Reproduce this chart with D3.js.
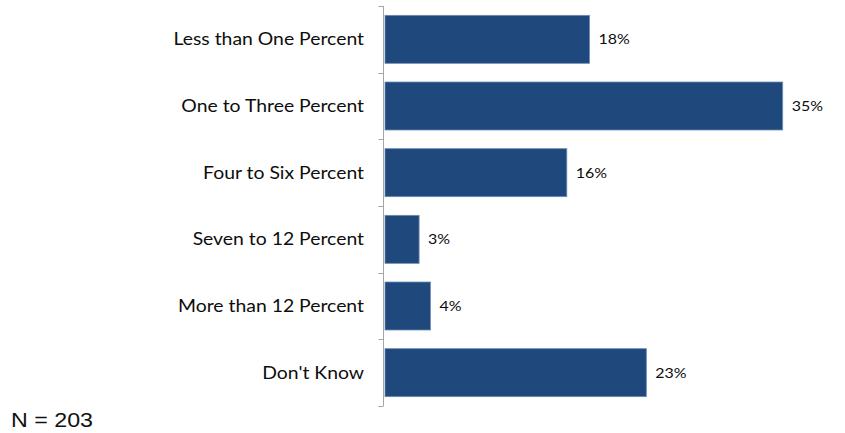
<!DOCTYPE html>
<html>
<head>
<meta charset="utf-8">
<script src="https://cdn.jsdelivr.net/npm/d3@7"></script>
<style>
  html, body { margin: 0; padding: 0; background: #fff; }
  svg { display: block; }
</style>
</head>
<body>
<svg id="chart" width="845" height="433"></svg>
<script>
// Survey responses, share of respondents (%)
const categories = [
  "Less than One Percent",
  "One to Three Percent",
  "Four to Six Percent",
  "Seven to 12 Percent",
  "More than 12 Percent",
  "Don't Know"
];
const values = [18, 35, 16, 3, 4, 23];
const valueLabels = ["18%", "35%", "16%", "3%", "4%", "23%"];
const sampleNote = "N = 203";

const svg = d3.select("#chart");
const labelFont = "Lato, 'Open Sans', sans-serif";
const stretch = 1.14; // labels are set slightly wide

const y = d3.scaleBand()
  .domain(categories)
  .range([6, 406])
  .paddingInner(0.28)
  .paddingOuter(0.14);

const x = d3.scaleLinear()
  .domain([0, 35])
  .range([385, 782.7]);

// Category axis with ticks between bands
const axisX = 383.5;
svg.append("line")
  .attr("x1", axisX).attr("x2", axisX)
  .attr("y1", 6).attr("y2", 406)
  .attr("stroke", "#a6a6a6").attr("stroke-width", 1);

const step = y.step();
const boundaries = d3.range(categories.length + 1).map(i => y.range()[0] + i * step);
svg.selectAll("line.tick")
  .data(boundaries)
  .join("line")
  .attr("class", "tick")
  .attr("x1", axisX - 5).attr("x2", axisX)
  .attr("y1", d => Math.round(d) + 0.5).attr("y2", d => Math.round(d) + 0.5)
  .attr("stroke", "#a6a6a6").attr("stroke-width", 1);

// Bars
svg.selectAll("rect.bar")
  .data(values)
  .join("rect")
  .attr("class", "bar")
  .attr("x", x(0))
  .attr("y", (d, i) => y(categories[i]))
  .attr("width", d => x(d) - x(0))
  .attr("height", y.bandwidth())
  .attr("fill", "#1f497d")
  .attr("stroke", "#6f8cb3")
  .attr("stroke-width", 0.8);

// Category labels
svg.selectAll("text.cat")
  .data(categories)
  .join("text")
  .attr("class", "cat")
  .attr("transform", d => `translate(364,${y(d) + y.bandwidth() / 2}) scale(${stretch},1)`)
  .attr("dy", "0.36em")
  .attr("text-anchor", "end")
  .attr("font-family", labelFont)
  .attr("font-size", 17)
  .attr("fill", "#0d0d0d")
  .text(d => d);

// Value labels
svg.selectAll("text.val")
  .data(values)
  .join("text")
  .attr("class", "val")
  .attr("transform", (d, i) => `translate(${x(d) + 9},${y(categories[i]) + y.bandwidth() / 2}) scale(${stretch},1)`)
  .attr("dy", "0.36em")
  .attr("font-family", labelFont)
  .attr("font-size", 14)
  .attr("fill", "#0d0d0d")
  .text((d, i) => valueLabels[i]);

// Sample size note
svg.append("text")
  .attr("x", 11)
  .attr("y", 427)
  .attr("font-family", "'Liberation Sans', Arial, sans-serif")
  .attr("font-size", 19.5)
  .attr("textLength", 82)
  .attr("lengthAdjust", "spacingAndGlyphs")
  .attr("fill", "#111")
  .text(sampleNote);
</script>
</body>
</html>
